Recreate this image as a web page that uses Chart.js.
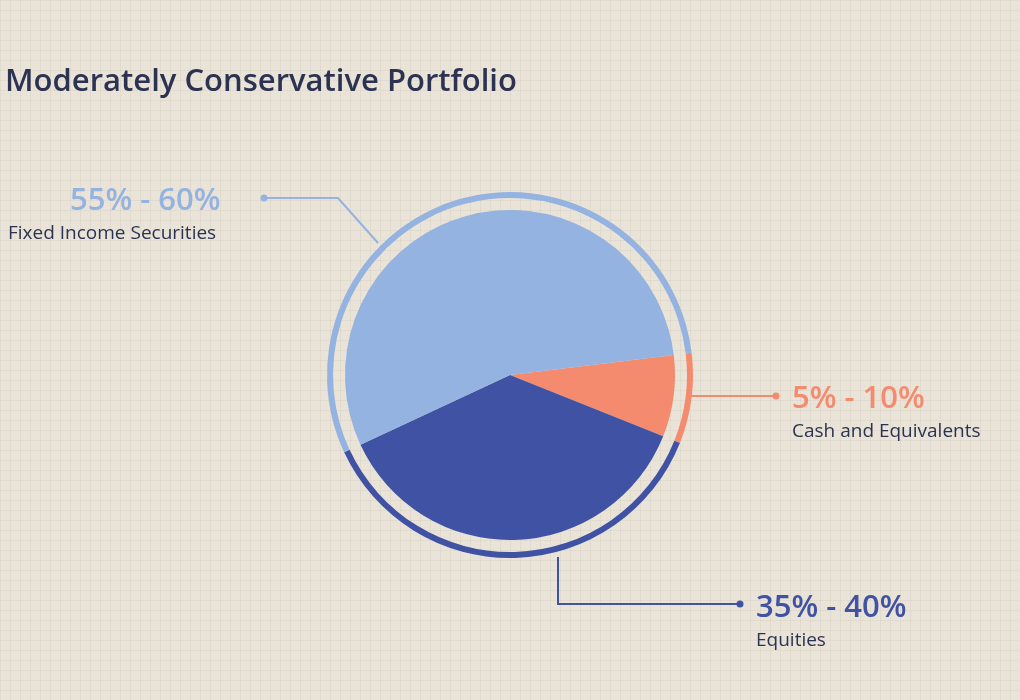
<!DOCTYPE html>
<html><head><meta charset="utf-8">
<script src="https://cdn.jsdelivr.net/npm/chart.js@4/dist/chart.umd.min.js"></script>
<style>
html,body{margin:0;padding:0;width:1020px;height:700px;overflow:hidden;
background-color:#e9e3d8;
background-image:linear-gradient(rgba(190,180,165,0.18) 1px,transparent 1px),linear-gradient(90deg,rgba(190,180,165,0.18) 1px,transparent 1px);
background-size:10px 10px;}
#wrap{position:absolute;left:0;top:0;width:1020px;height:700px;}
</style></head><body>
<div id="wrap"><canvas id="c" width="1020" height="700"></canvas></div>
<script>
const title = "Moderately Conservative Portfolio";
const categories = ["Cash and Equivalents", "Equities", "Fixed Income Securities"];
const rangeLabels = ["5% - 10%", "35% - 40%", "55% - 60%"];
const values = [8, 37, 55];
const colors = ["#f58b6e", "#3f52a3", "#94b3e0"];

const labelPlugin = {
  id: "labels",
  afterDraw(chart) {
    const ctx = chart.ctx;
    ctx.save();
    ctx.fillStyle = "#2c3352";
    ctx.font = "600 31px 'Open Sans'";
    ctx.textBaseline = "alphabetic";
    ctx.fillText(title, 5, 91);
    const lines = [
      {c: colors[2], pts: [[378,243],[338,198],[264,198]], lx: 70, ly: 210, tx: 8, ty: 239, i: 2},
      {c: colors[0], pts: [[690,396],[776,396]], lx: 792, ly: 408, tx: 792, ty: 437, i: 0},
      {c: colors[1], pts: [[558,557],[558,604],[740,604]], lx: 756, ly: 617, tx: 756, ty: 646, i: 1}
    ];
    for (const l of lines) {
      ctx.strokeStyle = l.c; ctx.lineWidth = 2;
      ctx.beginPath();
      l.pts.forEach((p, k) => k ? ctx.lineTo(p[0], p[1]) : ctx.moveTo(p[0], p[1]));
      ctx.stroke();
      const e = l.pts[l.pts.length - 1];
      ctx.fillStyle = l.c;
      ctx.beginPath(); ctx.arc(e[0], e[1], 3.5, 0, Math.PI * 2); ctx.fill();
      ctx.font = "600 31px 'Open Sans'";
      ctx.fillText(rangeLabels[l.i], l.lx, l.ly);
      ctx.fillStyle = "#2c3352";
      ctx.font = "500 19px 'Open Sans'";
      ctx.fillText(categories[l.i], l.tx, l.ty);
    }
    ctx.restore();
  }
};

new Chart(document.getElementById("c"), {
  type: "pie",
  data: {
    labels: categories,
    datasets: [
      {data: values, backgroundColor: colors, borderWidth: 0, weight: 6},
      {data: values, backgroundColor: "rgba(0,0,0,0)", borderWidth: 0, weight: 12},
      {data: values, backgroundColor: colors, borderWidth: 0, weight: 165}
    ]
  },
  options: {
    responsive: false, animation: false,
    rotation: 83,
    layout: {padding: {left: 327, right: 327, top: 192, bottom: 142}},
    plugins: {legend: {display: false}, tooltip: {enabled: false}}
  },
  plugins: [labelPlugin]
});
</script>
</body></html>
